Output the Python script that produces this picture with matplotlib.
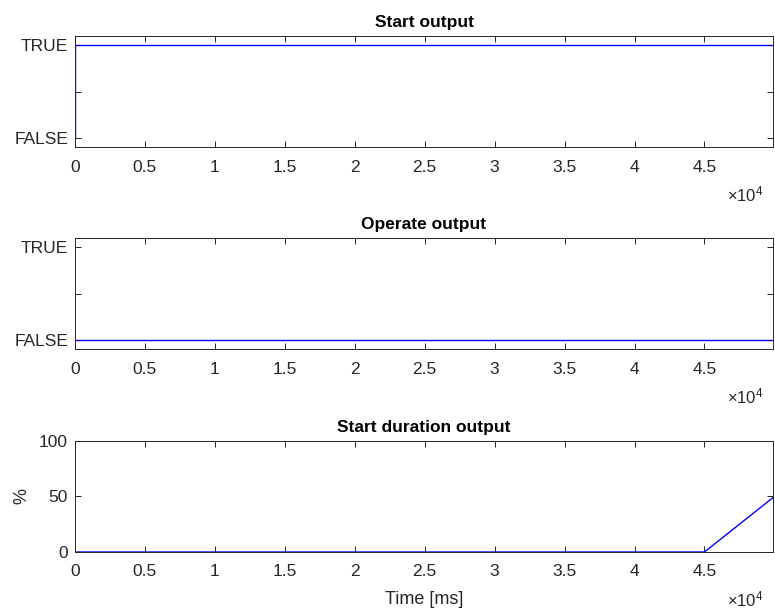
import matplotlib.pyplot as plt
import numpy as np

plt.rcParams['font.family'] = ['Liberation Sans', 'DejaVu Sans']
plt.rcParams['mathtext.fontset'] = 'custom'
plt.rcParams['mathtext.rm'] = 'Liberation Sans'
plt.rcParams['mathtext.it'] = 'Liberation Sans:italic'

# data (time in ms)
t_start = [0, 0, 49900]
start_out = [0, 1, 1]

t_operate = [0, 49900]
operate_out = [0, 0]

t_dur = [0, 45000, 50000]
dur_out = [0, 0, 50]

xmax = 49900
xticks = np.arange(0, 45001, 5000)
xticklabels = ['0', '0.5', '1', '1.5', '2', '2.5', '3', '3.5', '4', '4.5']

fig = plt.figure(figsize=(7.75, 6.09), dpi=100)
gray = '#262626'

bottoms = [0.7586, 0.4269, 0.0936]
titles = ['Start output', 'Operate output', 'Start duration output']
axes = []
for b in bottoms:
    ax = fig.add_axes([0.0968, b, 0.9006, 0.1823])
    axes.append(ax)

axes[0].plot(t_start, start_out, color='blue', lw=1)
axes[1].plot(t_operate, operate_out, color='blue', lw=1)
axes[2].plot(t_dur, dur_out, color='blue', lw=1)

for i, ax in enumerate(axes):
    ax.set_xlim(0, xmax)
    ax.set_xticks(xticks)
    ax.set_xticklabels(xticklabels)
    ax.tick_params(direction='in', top=True, right=True, labelsize=12.5,
                   colors=gray, length=4.5, width=0.7)
    ax.tick_params(axis='x', pad=9)
    ax.tick_params(axis='y', pad=5)
    for s in ax.spines.values():
        s.set_color(gray)
        s.set_linewidth(0.7)
    ax.set_title(titles[i], fontsize=12.5, fontweight='bold', color='black', pad=6.5)
    # exponent label, MATLAB style
    ax.text(0.9857, -0.43, r'$\times\mathregular{10^{4}}$', transform=ax.transAxes,
            ha='right', va='center', fontsize=12, color=gray)

for ax in axes[:2]:
    ax.set_ylim(-0.1, 1.1)
    ax.set_yticks([0, 0.5, 1])
    ax.set_yticklabels(['FALSE', '', 'TRUE'])

axes[2].set_ylim(0, 100)
axes[2].set_yticks([0, 50, 100])
axes[2].set_ylabel('%', fontsize=13, color=gray, labelpad=6)
axes[2].set_xlabel('Time [ms]', fontsize=13, color=gray, labelpad=8)

fig.savefig('out.png', dpi=100)
